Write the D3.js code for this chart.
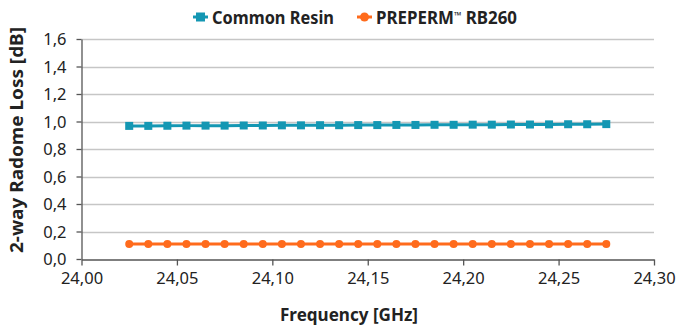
<!DOCTYPE html>
<html>
<head>
<meta charset="utf-8">
<script src="https://cdn.jsdelivr.net/npm/d3@7"></script>
<style>
body { margin: 0; background: #fff; }
text { font-family: "Noto Sans", sans-serif; fill: #222; }
</style>
</head>
<body>
<script>
// frequencies in GHz
var freqs = [24.025, 24.035, 24.045, 24.055, 24.065, 24.075, 24.085, 24.095, 24.105,
             24.115, 24.125, 24.135, 24.145, 24.155, 24.165, 24.175, 24.185, 24.195,
             24.205, 24.215, 24.225, 24.235, 24.245, 24.255, 24.265, 24.275];
var commonResin = [0.968, 0.968, 0.969, 0.970, 0.970, 0.970, 0.971, 0.971, 0.972,
                   0.972, 0.973, 0.973, 0.974, 0.974, 0.975, 0.975, 0.976, 0.976,
                   0.977, 0.977, 0.978, 0.978, 0.979, 0.980, 0.980, 0.981];
var preperm = [0.110, 0.110, 0.110, 0.110, 0.110, 0.110, 0.110, 0.110, 0.110,
               0.110, 0.110, 0.110, 0.110, 0.110, 0.110, 0.110, 0.110, 0.110,
               0.110, 0.110, 0.110, 0.110, 0.110, 0.110, 0.110, 0.110];
var xTicks = [24.00, 24.05, 24.10, 24.15, 24.20, 24.25, 24.30];
var yTicks = [0, 0.2, 0.4, 0.6, 0.8, 1.0, 1.2, 1.4, 1.6];
// legend names, split so the trademark sign can sit raised
var seriesNames = [["Common Resin"], ["PREPERM", "\u2122", " RB260"]];

var width = 680, height = 325;
var margin = { left: 81.5, right: 26, top: 39, bottom: 66 };

var svg = d3.select("body").append("svg")
    .attr("width", width)
    .attr("height", height);

var x = d3.scaleLinear().domain([24.00, 24.30]).range([margin.left, width - margin.right]);
var y = d3.scaleLinear().domain([0, 1.6]).range([height - margin.bottom, margin.top]);

var fmt = function(d) { return d3.format(".2f")(d).replace(".", ","); };
var fmtY = function(d) { return d3.format(".1f")(d).replace(".", ","); };

// gridlines
svg.append("g").selectAll("line")
    .data(yTicks.slice(1))
    .enter().append("line")
    .attr("x1", x(24.00)).attr("x2", x(24.30))
    .attr("y1", function(d) { return Math.round(y(d)) + 0.5; })
    .attr("y2", function(d) { return Math.round(y(d)) + 0.5; })
    .attr("stroke", "#c6c6c6")
    .attr("stroke-width", 1.3);

// axes
var xAxis = svg.append("g")
    .attr("transform", "translate(0," + (Math.round(y(0)) + 0.5) + ")")
    .call(d3.axisBottom(x).tickValues(xTicks).tickFormat(fmt).tickSize(6).tickSizeOuter(0));
var yAxis = svg.append("g")
    .attr("transform", "translate(" + x(24.00) + ",0)")
    .call(d3.axisLeft(y).tickValues(yTicks).tickFormat(fmtY).tickSize(5).tickSizeOuter(0));

[xAxis, yAxis].forEach(function(a) {
  a.select(".domain").attr("stroke", "#555").attr("stroke-width", 1.3);
  a.selectAll(".tick line").attr("stroke", "#555").attr("stroke-width", 1.3);
  a.selectAll(".tick text")
    .attr("font-family", "Noto Sans")
    .attr("font-size", 16.5)
    .attr("fill", "#333");
});
xAxis.selectAll(".tick text").attr("dy", "0.95em");
yAxis.selectAll(".tick text").attr("x", -15).attr("dy", "0.35em");

// axis titles
svg.append("text")
    .attr("x", 349)
    .attr("y", 321)
    .attr("text-anchor", "middle")
    .attr("font-size", 17)
    .attr("font-weight", "bold")
    .attr("textLength", 138)
    .attr("lengthAdjust", "spacingAndGlyphs")
    .text("Frequency [GHz]");

svg.append("text")
    .attr("transform", "translate(23,140) rotate(-90)")
    .attr("text-anchor", "middle")
    .attr("font-size", 18)
    .attr("font-weight", "bold")
    .attr("textLength", 226)
    .attr("lengthAdjust", "spacingAndGlyphs")
    .text("2-way Radome Loss [dB]");

var teal = "#1497b3", orange = "#ff6b1c";

var line = d3.line()
    .x(function(d) { return x(d[0]); })
    .y(function(d) { return y(d[1]); });

var resinData = freqs.map(function(f, i) { return [f, commonResin[i]]; });
var prepData = freqs.map(function(f, i) { return [f, preperm[i]]; });

svg.append("path")
    .attr("d", line(resinData))
    .attr("fill", "none")
    .attr("stroke", teal)
    .attr("stroke-width", 3);
svg.append("g").selectAll("rect")
    .data(resinData)
    .enter().append("rect")
    .attr("x", function(d) { return x(d[0]) - 4; })
    .attr("y", function(d) { return y(d[1]) - 4; })
    .attr("width", 8).attr("height", 8)
    .attr("fill", teal);

svg.append("path")
    .attr("d", line(prepData))
    .attr("fill", "none")
    .attr("stroke", orange)
    .attr("stroke-width", 3);
svg.append("g").selectAll("circle")
    .data(prepData)
    .enter().append("circle")
    .attr("cx", function(d) { return x(d[0]); })
    .attr("cy", function(d) { return y(d[1]); })
    .attr("r", 4)
    .attr("fill", orange);

// legend
var legend = svg.append("g");
var legItems = [
  { parts: seriesNames[0], color: teal, sym: "square", x: 193, w: 122 },
  { parts: seriesNames[1], color: orange, sym: "circle", x: 357, w: 141 }
];
legItems.forEach(function(it) {
  var g = legend.append("g").attr("transform", "translate(" + it.x + ",17)");
  g.append("line").attr("x1", 0).attr("x2", 15).attr("y1", 0).attr("y2", 0)
    .attr("stroke", it.color).attr("stroke-width", 3);
  if (it.sym === "square") {
    g.append("rect").attr("x", 3).attr("y", -4.5).attr("width", 9).attr("height", 9).attr("fill", it.color);
  } else {
    g.append("circle").attr("cx", 7.5).attr("cy", 0).attr("r", 4.5).attr("fill", it.color);
  }
  var t = g.append("text").attr("x", 19).attr("y", 7)
    .attr("font-size", 17.5)
    .attr("font-weight", "bold")
    .attr("textLength", it.w)
    .attr("lengthAdjust", "spacingAndGlyphs");
  it.parts.forEach(function(p) {
    var ts = t.append("tspan").text(p);
    if (p === "\u2122") ts.attr("font-size", 10).attr("dy", -5);
    else if (t.selectAll("tspan").size() > 1) ts.attr("dy", 5);
  });
});
</script>
</body>
</html>
